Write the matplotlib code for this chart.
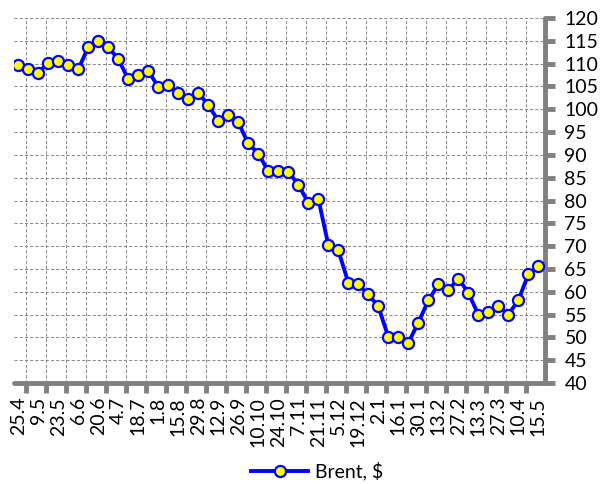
import numpy as np
import matplotlib
matplotlib.use("Agg")
import matplotlib.pyplot as plt

plt.rcParams['font.family'] = ['Lato', 'DejaVu Sans']

# weekly dates (labels shown every second week)
dates = ["25.4", "2.5", "9.5", "16.5", "23.5", "30.5", "6.6", "13.6", "20.6", "27.6",
         "4.7", "11.7", "18.7", "25.7", "1.8", "8.8", "15.8", "22.8", "29.8", "5.9",
         "12.9", "19.9", "26.9", "3.10", "10.10", "17.10", "24.10", "31.10", "7.11", "14.11",
         "21.11", "28.11", "5.12", "12.12", "19.12", "26.12", "2.1", "9.1", "16.1", "23.1",
         "30.1", "6.2", "13.2", "20.2", "27.2", "6.3", "13.3", "20.3", "27.3", "3.4",
         "10.4", "1.5", "15.5"]

# Brent, $
brent = [109.7, 108.8, 108.0, 110.2, 110.6, 109.7, 108.8, 113.6, 115.0, 113.6,
         111.0, 106.6, 107.5, 108.4, 104.9, 105.4, 103.6, 102.2, 103.6, 100.9,
         97.5, 98.8, 97.1, 92.5, 90.3, 86.4, 86.4, 86.3, 83.5, 79.5,
         80.4, 70.3, 69.1, 62.0, 61.6, 59.4, 56.8, 50.1, 50.1, 48.8,
         53.2, 58.1, 61.6, 60.3, 62.9, 59.8, 55.0, 55.5, 56.9, 55.0,
         58.1, 63.8, 65.6]

x = np.arange(len(brent))

fig = plt.figure(figsize=(6.04, 4.84), dpi=100)
ax = fig.add_axes([14 / 604, 1 - 383 / 484, 531 / 604, 365 / 484])

ax.plot(x, brent, color='#0000FF', linewidth=2.8, marker='o', markersize=8,
        markerfacecolor='#FFFF00', markeredgecolor='#0000FF', markeredgewidth=1.6,
        label='Brent, $', zorder=3)

ax.set_xlim(-0.43, 52.67)
ax.set_ylim(40, 120)

# labels on every second week, tick marks / grid slightly offset (as in Excel output)
ax.set_xticks(x[::2])
ax.set_xticklabels(dates[::2], rotation=90, fontsize=14)
ax.set_xticks(x[:-1:2] + 0.74, minor=True)
ax.tick_params(axis='x', which='major', length=0, pad=10)
ax.tick_params(axis='x', which='minor', length=7, width=3.5, color='#808080')

ax.set_yticks(np.arange(40, 121, 5))
ax.yaxis.tick_right()
ax.tick_params(axis='y', which='major', length=7, width=3.5, color='#808080',
               labelsize=14, pad=7)

ax.grid(True, axis='y', which='major', linestyle=(0, (3, 2)), color='#8c8c8c', linewidth=0.75)
ax.grid(True, axis='x', which='minor', linestyle=(0, (3, 2)), color='#8c8c8c', linewidth=0.75)

for side in ['left', 'top']:
    ax.spines[side].set_visible(False)
for side in ['right', 'bottom']:
    ax.spines[side].set_color('#808080')
    ax.spines[side].set_linewidth(3.5)
    ax.spines[side].set_capstyle('round')

fig.legend(loc='center', bbox_to_anchor=(317 / 604, 1 - 471 / 484), frameon=False,
           fontsize=14, handlelength=2.9, borderpad=0, handletextpad=0.35)

fig.savefig('out.png', dpi=100)
